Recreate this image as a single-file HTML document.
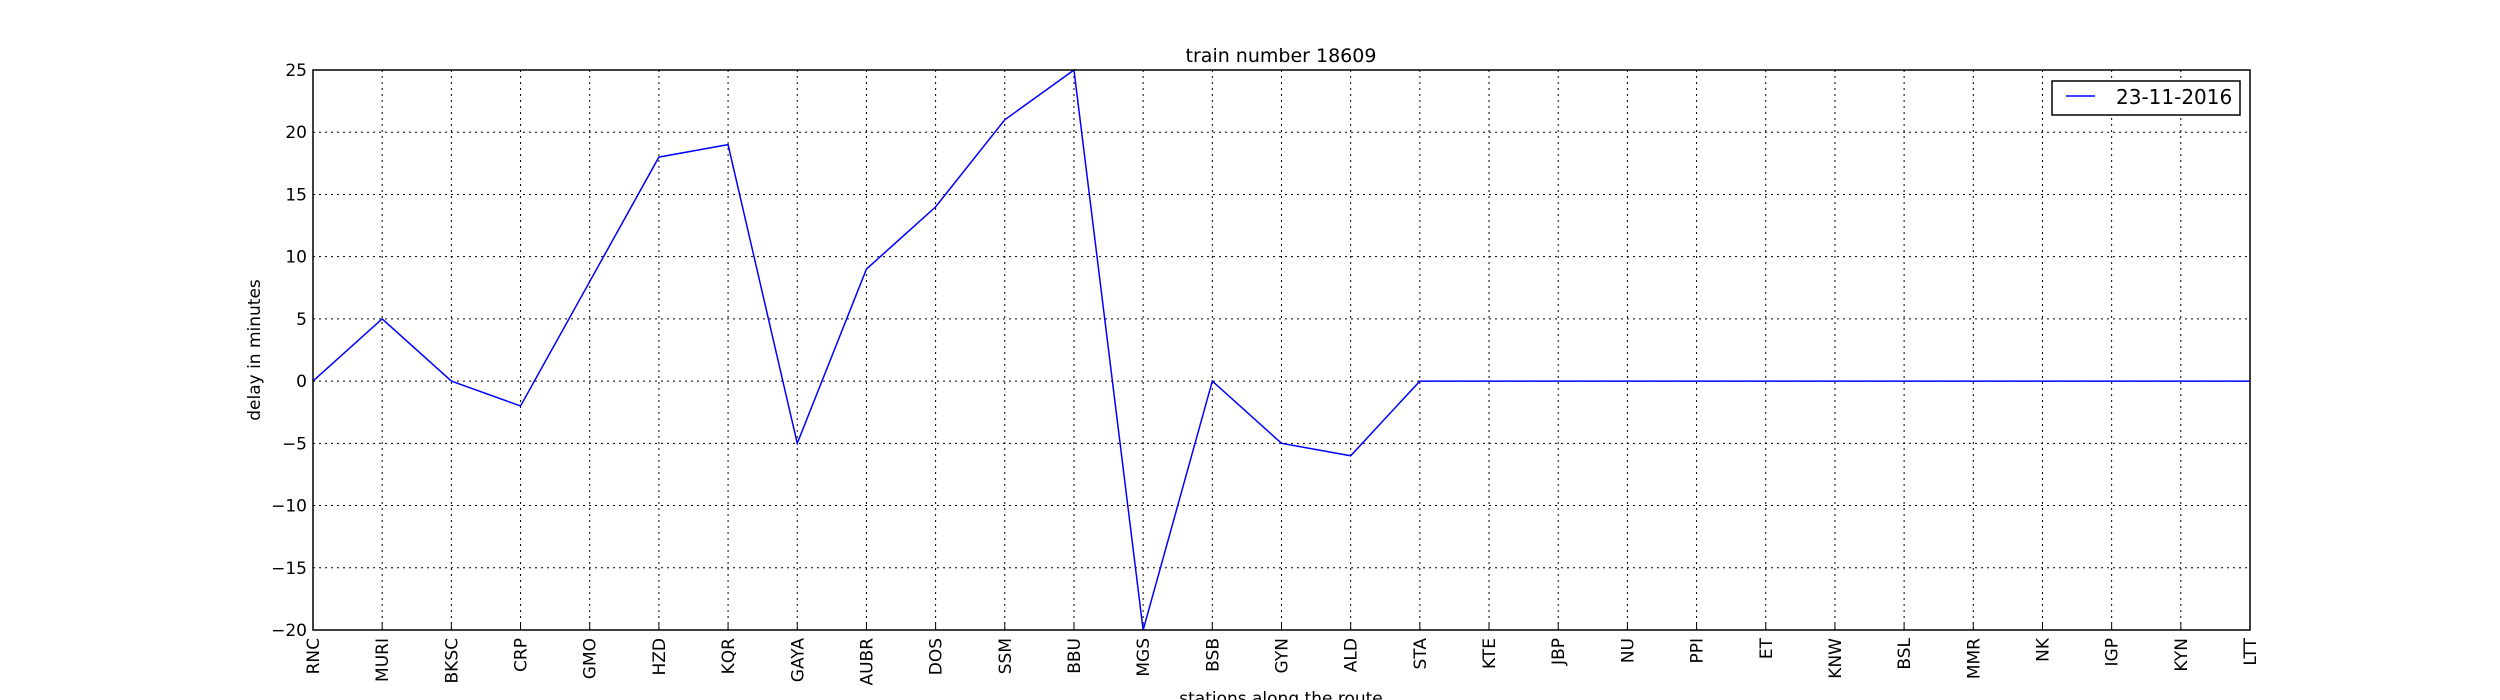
<!DOCTYPE html>
<html><head><meta charset="utf-8"><style>
html,body{margin:0;padding:0;background:#fff;}
svg{display:block;font-family:"DejaVu Sans","Liberation Sans",sans-serif;}
</style></head><body>
<svg id="chart" width="2500" height="700" viewBox="0 0 2500 700">
<rect width="2500" height="700" fill="#fff"/>
<g id="grid"></g>
<g id="ticks"></g>
<polyline id="series" fill="none" stroke="#0000ff" stroke-width="1.5"/>
<rect x="313" y="70" width="1937" height="560" fill="none" stroke="#000" stroke-width="1.5"/>
<text x="1281" y="62" font-size="19" text-anchor="middle">train number 18609</text>
<text x="1281" y="704" font-size="17" text-anchor="middle">stations along the route</text>
<text transform="translate(260,350) rotate(-90)" font-size="17" text-anchor="middle">delay in minutes</text>
<g>
<rect x="2052" y="81" width="188" height="34" fill="#fff" stroke="#000" stroke-width="1.5"/>
<line x1="2066" y1="96" x2="2095" y2="96" stroke="#0000ff" stroke-width="1.5"/>
<text x="2116" y="104" font-size="20">23-11-2016</text>
</g>
</svg>
<script>
const stations=["RNC","MURI","BKSC","CRP","GMO","HZD","KQR","GAYA","AUBR","DOS","SSM","BBU","MGS","BSB","GYN","ALD","STA","KTE","JBP","NU","PPI","ET","KNW","BSL","MMR","NK","IGP","KYN","LTT"];
const delays=[0,5,0,-2,8,18,19,-5,9,14,21,25,-20,0,-5,-6,0,0,0,0,0,0,0,0,0,0,0,0,0];
const yTicks=[25,20,15,10,5,0,-5,-10,-15,-20];
const yTickLabels=["25","20","15","10","5","0","\u221210","\u221215","\u221220"];
const L=313,R=2250,T=70,B=630,yMin=-20,yMax=25;
const xs=i=>L+(R-L)*i/(stations.length-1);
const ys=v=>B-(v-yMin)/(yMax-yMin)*(B-T);
const NS="http://www.w3.org/2000/svg";
const grid=document.getElementById('grid'),ticks=document.getElementById('ticks');
function mk(tag,attrs,parent){const e=document.createElementNS(NS,tag);for(const k in attrs)e.setAttribute(k,attrs[k]);parent.appendChild(e);return e;}
stations.forEach((s,i)=>{
  const x=xs(i);
  const g=mk('line',{x1:x,x2:x,y1:T,y2:B,stroke:'#000','stroke-width':1,'stroke-dasharray':'2,4'},grid);
  
  
  const t=mk('line',{x1:x,x2:x,y1:B,y2:B-7,stroke:'#000','stroke-width':1},ticks);
  
  
  const tx=mk('text',{transform:`translate(${x+6},${B+8}) rotate(-90)`,'font-size':17,'text-anchor':'end'},ticks);
  tx.textContent=s;
  
  
});
yTicks.forEach(v=>{
  const y=ys(v);
  const g=mk('line',{x1:L,x2:R,y1:y,y2:y,stroke:'#000','stroke-width':1,'stroke-dasharray':'2,4'},grid);
  
  
  const tx=mk('text',{x:L-6,y:y+6,'font-size':17,'text-anchor':'end'},ticks);
  tx.textContent=v<0?"\u2212"+(-v):String(v);
  
  
});
document.getElementById('series').setAttribute('points',delays.map((d,i)=>xs(i)+','+ys(d)).join(' '));
</script>
</body></html>
